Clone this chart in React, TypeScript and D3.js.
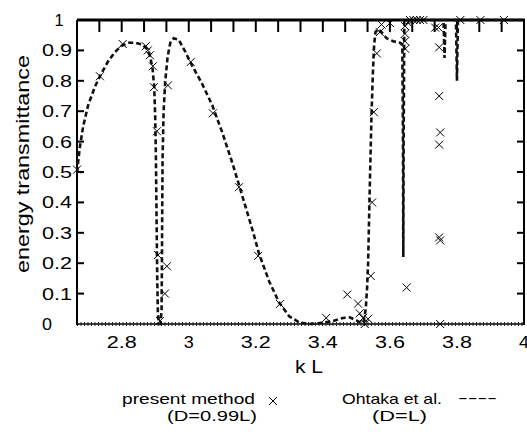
import React from "react";
import * as d3 from "d3";

// Ohtaka et al. (D=L) curve
const ohtakaKL = [
  2.6667, 2.675, 2.685, 2.7, 2.72, 2.735, 2.76, 2.78, 2.8, 2.82, 2.84, 2.86, 2.875, 2.885, 2.892, 2.897, 2.9, 2.902, 2.904, 2.906, 2.908, 2.912,
  2.916, 2.919, 2.92, 2.921, 2.922, 2.925, 2.93, 2.937, 2.945, 2.955, 2.97, 2.99, 3.01, 3.04, 3.07, 3.1, 3.13, 3.16, 3.19, 3.21, 3.24, 3.27,
  3.3, 3.33, 3.36, 3.4, 3.43, 3.46, 3.48, 3.5, 3.515, 3.522, 3.528, 3.532, 3.535, 3.538, 3.541, 3.545, 3.549, 3.553, 3.557, 3.565, 3.575,
  3.59, 3.61, 3.63, 3.637, 3.639, 3.64, 3.641, 3.643, 3.76, 3.763, 3.766, 3.797, 3.8, 3.803, 4.0,
];
const ohtakaT = [
  0.5, 0.58, 0.65, 0.72, 0.78, 0.815, 0.865, 0.895, 0.915, 0.925, 0.925, 0.92, 0.905, 0.88, 0.84, 0.78, 0.68, 0.55, 0.35, 0.15, 0.03, 0.0,
  0.0, 0.05, 0.2, 0.4, 0.55, 0.7, 0.8, 0.88, 0.925, 0.94, 0.935, 0.895, 0.85, 0.79, 0.72, 0.63, 0.53, 0.42, 0.31, 0.23, 0.14, 0.07,
  0.025, 0.005, 0.0, 0.004, 0.01, 0.02, 0.022, 0.012, 0.003, 0.01, 0.05, 0.12, 0.2, 0.35, 0.5, 0.68, 0.82, 0.92, 0.96, 0.97, 0.96,
  0.94, 0.93, 0.925, 0.92, 0.6, 0.22, 0.6, 1.0, 1.0, 0.875, 1.0, 1.0, 0.8, 1.0, 1.0,
];

// present method (D=0.99L) points
const presentKL = [
  2.667, 2.735, 2.803, 2.872, 2.878, 2.884, 2.893, 2.896, 2.905, 2.908, 2.914, 2.929, 2.935, 2.938, 3.006, 3.072, 3.15, 3.207, 3.272,
  3.41, 3.473, 3.505, 3.51, 3.52, 3.525, 3.535, 3.543, 3.547, 3.552, 3.561, 3.57, 3.575, 3.6, 3.645, 3.645, 3.645, 3.646, 3.65, 3.655,
  3.66, 3.67, 3.68, 3.69, 3.7, 3.735, 3.745, 3.747, 3.747, 3.75, 3.747, 3.747, 3.75, 3.75, 3.81, 3.87, 3.94,
];
const presentT = [
  0.508, 0.815, 0.921, 0.914, 0.9, 0.884, 0.848, 0.779, 0.634, 0.227, 0.01, 0.1, 0.19, 0.785, 0.862, 0.693, 0.45, 0.224, 0.066,
  0.02, 0.097, 0.067, 0.035, 0.02, 0.0, 0.017, 0.158, 0.4, 0.697, 0.89, 0.96, 0.985, 0.99, 0.98, 0.955, 0.93, 0.905, 0.12, 0.99,
  1.0, 1.0, 1.0, 1.0, 1.0, 0.975, 0.975, 0.91, 0.75, 0.63, 0.59, 0.285, 0.275, 0.0, 1.0, 1.0, 1.0,
];

const xTickValues = [2.8, 3.0, 3.2, 3.4, 3.6, 3.8, 4.0];
const xTickLabels = ["2.8", "3", "3.2", "3.4", "3.6", "3.8", "4"];
const yTickValues = [0, 0.1, 0.2, 0.3, 0.4, 0.5, 0.6, 0.7, 0.8, 0.9, 1];
const yTickLabels = ["0", "0.1", "0.2", "0.3", "0.4", "0.5", "0.6", "0.7", "0.8", "0.9", "1"];
const topTickValues = d3.range(41, 60).map((k) => k / 15);

const FONT = "'Liberation Sans', Arial, Helvetica, sans-serif";

export default function App() {
  const left = 77, right = 524, top = 20, bottom = 324;
  const x = d3.scaleLinear().domain([40 / 15, 4]).range([left, right]);
  const y = d3.scaleLinear().domain([0, 1]).range([bottom, top]);

  const ohtaka = ohtakaKL.map((k, i) => [k, ohtakaT[i]] as [number, number]);
  const line = d3.line<[number, number]>().x((d) => x(d[0])).y((d) => y(d[1]));

  const labelWidth = (s: string) => (s.length === 1 ? 10 : 30);

  return (
    <svg width={527} height={440} style={{ position: "absolute", left: 0, top: 0, background: "#fff" }}>
      <rect x={0} y={0} width={527} height={440} fill="#fff" />
      {/* bottom dotted baseline */}
      <line x1={left} x2={right} y1={bottom} y2={bottom} stroke="#000" strokeWidth={1.5} />
      <line x1={left} x2={right} y1={bottom} y2={bottom} stroke="#222" strokeWidth={4} strokeDasharray="1 2.5" />
      {/* axes */}
      <line x1={left} x2={left} y1={top} y2={bottom + 1} stroke="#000" strokeWidth={2} />
      <line x1={right} x2={right} y1={top} y2={bottom + 1} stroke="#000" strokeWidth={2} />
      <line x1={left} x2={right + 1} y1={top} y2={top} stroke="#000" strokeWidth={3} />
      {/* y ticks */}
      {yTickValues.slice(1, -1).map((v, i) => (
        <g key={"yt" + i}>
          <line x1={left} x2={left + 7} y1={y(v)} y2={y(v)} stroke="#000" strokeWidth={2} />
          <line x1={right - 7} x2={right} y1={y(v)} y2={y(v)} stroke="#000" strokeWidth={2} />
        </g>
      ))}
      {/* top ticks */}
      {topTickValues.map((v, i) => (
        <line key={"tt" + i} x1={x(v)} x2={x(v)} y1={top} y2={top + 12} stroke="#000" strokeWidth={2} />
      ))}
      {/* y tick labels */}
      {yTickValues.map((v, i) => {
        const s = yTickLabels[i];
        if (s === "0")
          return (
            <text key={"yl" + i} x={42} y={y(v) + 5.9} fontFamily={FONT} fontSize={16.5} textLength={10} lengthAdjust="spacingAndGlyphs">
              {s}
            </text>
          );
        if (s === "1")
          return (
            <text key={"yl" + i} x={59} y={y(v) + 5.9} fontFamily={FONT} fontSize={16.5} textAnchor="middle">
              {s}
            </text>
          );
        return (
          <text key={"yl" + i} x={72} y={y(v) + 5.9} fontFamily={FONT} fontSize={16.5} textAnchor="end" textLength={30} lengthAdjust="spacingAndGlyphs">
            {s}
          </text>
        );
      })}
      {/* x tick labels */}
      {xTickValues.map((v, i) => (
        <text
          key={"xl" + i}
          x={x(v)}
          y={348}
          fontFamily={FONT}
          fontSize={16.5}
          textAnchor="middle"
          textLength={labelWidth(xTickLabels[i])}
          lengthAdjust="spacingAndGlyphs"
        >
          {xTickLabels[i]}
        </text>
      ))}
      {/* Ohtaka dashed curve */}
      <path d={line(ohtaka) || ""} fill="none" stroke="#111" strokeWidth={2.6} strokeDasharray="5 3" />
      {/* present method crosses */}
      {presentKL.map((k, i) => {
        const cx = x(k), cy = y(presentT[i]);
        return (
          <path key={"p" + i} d={`M${cx - 4},${cy - 4}L${cx + 4},${cy + 4}M${cx - 4},${cy + 4}L${cx + 4},${cy - 4}`} stroke="#000" strokeWidth={1} fill="none" />
        );
      })}
      {/* axis titles */}
      <text
        transform={`translate(29,164) rotate(-90)`}
        fontFamily={FONT}
        fontSize={19}
        textAnchor="middle"
        textLength={218}
        lengthAdjust="spacingAndGlyphs"
      >
        energy transmittance
      </text>
      <text x={309} y={373} fontFamily={FONT} fontSize={18} textAnchor="middle" textLength={28} lengthAdjust="spacingAndGlyphs">
        k L
      </text>
      {/* legend */}
      <text x={122} y={404} fontFamily={FONT} fontSize={14.5} textLength={133} lengthAdjust="spacingAndGlyphs">
        present method
      </text>
      <path d="M269,397L277,405M269,405L277,397" stroke="#000" strokeWidth={1} />
      <text x={167} y={421} fontFamily={FONT} fontSize={14.5} textLength={90} lengthAdjust="spacingAndGlyphs">
        (D=0.99L)
      </text>
      <text x={342} y={404} fontFamily={FONT} fontSize={14.5} textLength={100} lengthAdjust="spacingAndGlyphs">
        Ohtaka et al.
      </text>
      <text x={458} y={403} fontFamily={FONT} fontSize={14.5} textLength={39} lengthAdjust="spacingAndGlyphs">
        ----
      </text>
      <text x={372} y={421} fontFamily={FONT} fontSize={14.5} textLength={55} lengthAdjust="spacingAndGlyphs">
        (D=L)
      </text>
    </svg>
  );
}
